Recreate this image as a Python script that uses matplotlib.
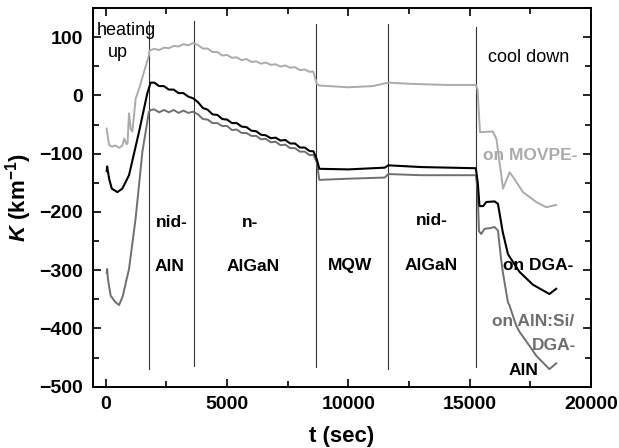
import numpy as np
import matplotlib
matplotlib.use("Agg")
import matplotlib.pyplot as plt
from matplotlib.ticker import MultipleLocator

plt.rcParams['font.family'] = ['Liberation Sans', 'DejaVu Sans']
plt.rcParams['mathtext.fontset'] = 'custom'
plt.rcParams['mathtext.it'] = 'Liberation Sans:italic:bold'
plt.rcParams['mathtext.rm'] = 'Liberation Sans:bold'
plt.rcParams['mathtext.bf'] = 'Liberation Sans:bold'

# growth on MOVPE-AlN (light gray)
t_movpe = [40, 100, 140, 250, 400, 550, 690, 760, 860, 900, 958, 1000, 1030, 1100, 1232, 1370, 1780,
           1800, 2000, 2200, 2400, 2600, 2800, 3000, 3200, 3400, 3600, 3800, 4000, 4200, 4400, 4600,
           4800, 5000, 5200, 5400, 5600, 5800, 6000, 6200, 6400, 6600, 6800, 7000, 7200, 7400, 7600,
           7800, 8000, 8200, 8400, 8550, 8700, 8800, 10000, 11000, 11640, 12500, 14000, 15250, 15320,
           15420, 15950, 16100, 16370, 16640, 16780, 17190, 17740, 18150, 18560]
k_movpe = [-57, -75, -85, -88, -86, -90, -86, -74, -84, -82, -31, -45, -58, -62, -6, 11, 69,
           77, 80, 78, 82, 81, 85, 84, 88, 86, 90, 86.5, 80.5, 80.5, 74.5, 74.5,
           68.5, 69.5, 64.5, 65.5, 60.5, 62.5, 57.5, 58.5, 54.5, 56.5, 52.5, 53.5, 49.5, 51.5, 47.5,
           48.5, 43.5, 44.5, 40.5, 41, 20, 17, 14, 16, 22, 20, 18, 18, 10,
           -63, -62, -75, -160, -132, -140, -166, -183, -192, -188]

# growth on DGA-AlN (black)
t_dga = [40, 60, 80, 140, 250, 480, 685, 960, 1370, 1710, 1850,
         2000, 2200, 2400, 2600, 2800, 3000, 3200, 3400, 3600, 3800, 4000, 4200, 4400, 4600,
         4800, 5000, 5200, 5400, 5600, 5800, 6000, 6200, 6400, 6600, 6800, 7000, 7200, 7400, 7600,
         7800, 8000, 8200, 8400, 8560, 8700, 8800, 10000, 11500, 11640, 13000, 15250, 15330,
         15400, 15550, 15680, 16020, 16160, 16360, 16570, 16640, 17050, 17600, 18280, 18560]
k_dga = [-130, -122, -128, -143, -160, -166, -160, -137, -63, 3, 22,
         22, 16, 16, 10, 10, 4, 4, -2, -5, -11.5, -21.5, -24.5, -32.5, -33.5,
         -40.5, -41.5, -47.5, -47.5, -53.5, -54.5, -60.5, -61.5, -67.5, -68.5, -73.5, -72.5, -77.5, -76.5, -82.5,
         -82.5, -89.5, -89.5, -95.5, -96, -110, -126, -127, -124, -120, -123, -125, -150,
         -190, -190, -183, -182, -186, -235, -272, -277, -303, -325, -341, -332]

# growth on AlN:Si/DGA-AlN (mid gray)
t_si = [40, 60, 90, 205, 400, 550, 700, 960, 1230, 1370, 1440, 1510, 1780,
        1850, 2000, 2200, 2400, 2600, 2800, 3000, 3200, 3400, 3600, 3800, 4000, 4200, 4400, 4600,
        4800, 5000, 5200, 5400, 5600, 5800, 6000, 6200, 6400, 6600, 6800, 7000, 7200, 7400, 7600,
        7800, 8000, 8200, 8400, 8560, 8700, 8800, 10000, 11500, 11640, 13000, 15250, 15320,
        15380, 15470, 15610, 15820, 16020, 16160, 16290, 16360, 16570, 16640, 16910, 17050,
        17460, 17740, 18210, 18280, 18560]
k_si = [-305, -298, -315, -344, -355, -360, -345, -298, -212, -155, -126, -97, -28,
        -25, -24, -29, -25, -29, -25, -30, -26, -30, -28, -32.5, -40.5, -41.5, -47.5, -47.5,
        -52.5, -52.5, -59.5, -58.5, -64.5, -64.5, -69.5, -69.5, -75.5, -74.5, -80.5, -79.5, -85.5, -84.5, -90.5,
        -90.5, -96.5, -96.5, -102.5, -102, -115, -145, -143, -141, -135, -137, -137, -160,
        -233, -238, -229, -228, -226, -232, -281, -303, -355, -361, -395, -406,
        -430, -447, -467, -470, -460]

# growth step boundaries
t_steps = [1800, 3640, 8660, 11640, 15270]
step_top = [128, 128, 122, 122, 117]
step_bottom = [-470, -465, -467, -470, -467]

layer_labels = [("nid-", 2710, -219), ("AlN", 2610, -294), ("n-", 5960, -219),
                ("AlGaN", 6060, -294), ("MQW", 10085, -292), ("nid-", 13430, -215),
                ("AlGaN", 13390, -292)]

c_light = '#ababab'
c_mid = '#6f6f6f'

fig = plt.figure(figsize=(6.19, 4.48), dpi=100)
ax = fig.add_axes([0.150, 0.137, 0.805, 0.845])

for t, lo, hi in zip(t_steps, step_bottom, step_top):
    ax.plot([t, t], [lo, hi], color='#333333', lw=0.8)

ax.plot(t_movpe, k_movpe, color=c_light, lw=1.4)
ax.plot(t_si, k_si, color=c_mid, lw=1.4)
ax.plot(t_dga, k_dga, color='black', lw=1.5)

ax.text(-370, 112, "heating", fontsize=13, ha='left', va='center')
ax.text(80, 74, "up", fontsize=13, ha='left', va='center')
ax.text(15770, 65, "cool down", fontsize=13, ha='left', va='center')
for s, x, y in layer_labels:
    ax.text(x, y, s, fontsize=12.5, fontweight='bold', ha='center', va='center')

ax.text(17480, -103, "on MOVPE-", fontsize=12.5, fontweight='bold', color=c_light, ha='center', va='center')
ax.text(17830, -292, "on DGA-", fontsize=12.5, fontweight='bold', color='black', ha='center', va='center')
ax.text(17620, -389, "on AlN:Si/", fontsize=12.5, fontweight='bold', color=c_mid, ha='center', va='center')
ax.text(18490, -430, "DGA-", fontsize=12.5, fontweight='bold', color=c_mid, ha='center', va='center')
ax.text(17210, -472, "AlN", fontsize=12.5, fontweight='bold', color='black', ha='center', va='center')

ax.set_xlim(-530, 20000)
ax.set_ylim(-500, 150)
ax.xaxis.set_major_locator(MultipleLocator(5000))
ax.xaxis.set_minor_locator(MultipleLocator(2500))
ax.yaxis.set_major_locator(MultipleLocator(100))
ax.yaxis.set_minor_locator(MultipleLocator(50))
ax.tick_params(which='both', direction='in', top=True, right=True, width=1.2)
ax.tick_params(which='major', length=6, labelsize=14, pad=7)
ax.tick_params(which='minor', length=4)
for lab in ax.get_xticklabels() + ax.get_yticklabels():
    lab.set_fontweight('bold')
for sp in ax.spines.values():
    sp.set_linewidth(1.4)

ax.set_xlabel("t (sec)", fontsize=16, fontweight='bold', labelpad=9)
ax.set_ylabel(r"$K$ (km$^{-1}$)", fontsize=16, fontweight='bold', labelpad=4)

fig.savefig("out.png", dpi=100)
